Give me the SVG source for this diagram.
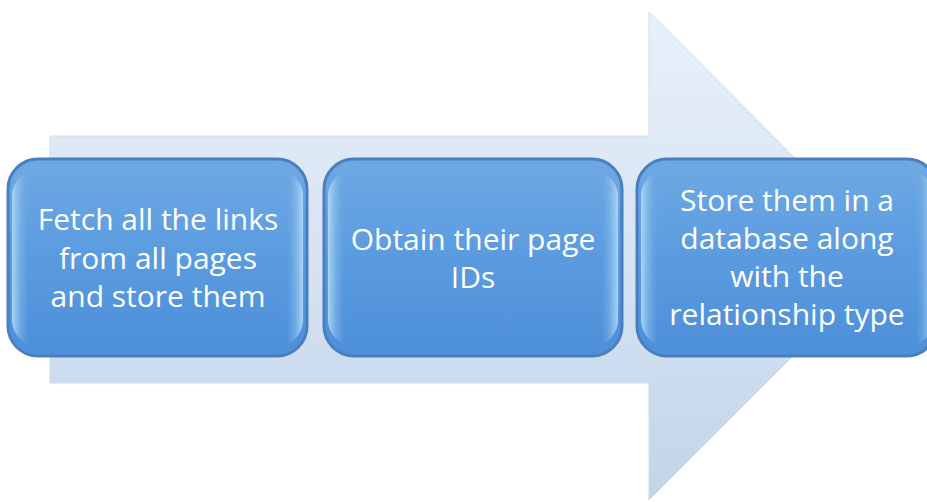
<svg xmlns="http://www.w3.org/2000/svg" width="927" height="502" viewBox="0 0 927 502">
<defs>
<linearGradient id="arrowG" x1="0" y1="0" x2="0" y2="1">
<stop offset="0" stop-color="#e8f0fa"/>
<stop offset="0.5" stop-color="#d6e3f3"/>
<stop offset="1" stop-color="#c3d3e9"/>
</linearGradient>
<linearGradient id="boxG" x1="0" y1="0" x2="0" y2="1">
<stop offset="0" stop-color="#6fa9e3"/>
<stop offset="0.5" stop-color="#5a9be0"/>
<stop offset="1" stop-color="#4d8fd8"/>
</linearGradient>
<linearGradient id="edgeG" x1="0" y1="0" x2="1" y2="0">
<stop offset="0" stop-color="#b4dcf8" stop-opacity="0.9"/>
<stop offset="0.06" stop-color="#6aa6e2" stop-opacity="0"/>
<stop offset="0.94" stop-color="#6aa6e2" stop-opacity="0"/>
<stop offset="1" stop-color="#b4dcf8" stop-opacity="0.9"/>
</linearGradient>
<style>
.box{fill:url(#boxG);stroke:#4a7fbf;stroke-width:3}
.hl{fill:url(#edgeG);stroke:none}
.lbl{font-family:"Open Sans","Liberation Sans",sans-serif;font-size:30px;fill:#ffffff;text-anchor:middle}
</style>
</defs>
<g id="arrow">
<polygon points="50,136 649,136 649,12 893,256 649,500 649,383 50,383" fill="url(#arrowG)" stroke="#d0dcec" stroke-width="1"/>
</g>
<g id="connectors"></g>
<g id="node1">
<rect class="box" x="8" y="159" width="299" height="197" rx="30"/>
<rect class="hl" x="12" y="170" width="291" height="176" rx="26"/>
<text class="lbl" x="158" y="230">Fetch all the links</text>
<text class="lbl" x="158" y="268.5">from all pages</text>
<text class="lbl" x="158" y="307">and store them</text>
</g>
<g id="node2">
<rect class="box" x="324" y="159" width="298" height="197" rx="30"/>
<rect class="hl" x="328" y="170" width="290" height="176" rx="26"/>
<text class="lbl" x="473" y="250">Obtain their page</text>
<text class="lbl" x="473" y="288">IDs</text>
</g>
<g id="node3">
<rect class="box" x="637" y="159" width="300" height="197" rx="30"/>
<rect class="hl" x="641" y="170" width="292" height="176" rx="26"/>
<text class="lbl" x="787" y="211">Store them in a</text>
<text class="lbl" x="787" y="249">database along</text>
<text class="lbl" x="787" y="287">with the</text>
<text class="lbl" x="787" y="325">relationship type</text>
</g>
</svg>
